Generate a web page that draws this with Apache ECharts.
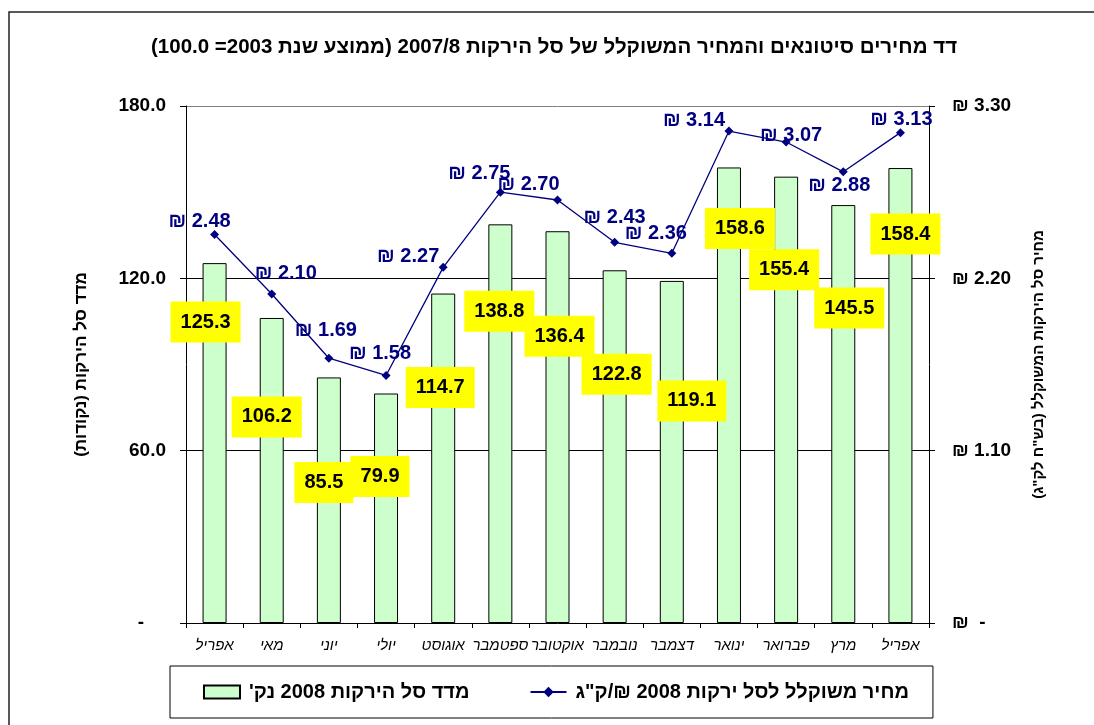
<!DOCTYPE html>
<html>
<head>
<meta charset="utf-8">
<script src="https://cdn.jsdelivr.net/npm/echarts@6/dist/echarts.min.js"></script>
<style>
html,body{margin:0;padding:0;background:#fff;}
#chart{width:1094px;height:725px;}
</style>
</head>
<body>
<div id="chart" dir="rtl"></div>
<script>
// ---- data ----
const categories = ['אפריל','מאי','יוני','יולי','אוגוסט','ספטמבר','אוקטובר','נובמבר','דצמבר','ינואר','פברואר','מרץ','אפריל'];
const indexValues = [125.3, 106.2, 85.5, 79.9, 114.7, 138.8, 136.4, 122.8, 119.1, 158.6, 155.4, 145.5, 158.4];
const priceValues = [2.48, 2.10, 1.69, 1.58, 2.27, 2.75, 2.70, 2.43, 2.36, 3.14, 3.07, 2.88, 3.13];
const leftAxisTicks = [0, 60, 120, 180];
const rightAxisTicks = [0, 1.10, 2.20, 3.30];
const titleText = 'דד מחירים סיטונאים והמחיר המשוקלל של סל הירקות 2007/8 (ממוצע שנת 2003= 100.0)';
const barSeriesName = "מדד סל הירקות 2008 נק'";
const lineSeriesName = 'מחיר משוקלל לסל ירקות 2008 ₪/ק"ג';
const leftAxisName = 'מדד סל הירקות (נקודות)';
const rightAxisName = 'מחיר סל הירקות המשוקלל (בש"ח לק"ג)';

// ---- label placement (offsets from bar top centre / point) ----
const barLabelPlacement = [[-9,59],[-5,99],[-5,105],[-6,83],[-3,94],[-1,87],[2,105],[2,104],[20,120],[11,61],[-2,93],[6,103],[5,66]];
const lineLabelPlacement = [[-15,-13],[14,-21],[-3,-28],[-6,-22],[-35,-11],[-21,-19],[-29,-16],[0,-25],[-16,-20],[-35,-11],[5,-7],[-4,14],[1,-13]];

const FONT = "'Liberation Sans', Arial, 'DejaVu Sans', sans-serif";
const BAR_W = 24;

const chart = echarts.init(document.getElementById('chart'), null, {renderer: 'canvas'});

const barData = indexValues.map((v, i) => ({
  value: v,
  label: { position: [BAR_W / 2 + barLabelPlacement[i][0], barLabelPlacement[i][1]] }
}));
const lineData = priceValues.map((v, i) => ({
  value: v,
  label: { offset: lineLabelPlacement[i] }
}));

const option = {
  animation: false,
  backgroundColor: '#ffffff',
  textStyle: { fontFamily: FONT },
  title: {
    text: titleText,
    left: 151,
    top: 37,
    padding: 0,
    textStyle: { fontFamily: FONT, fontSize: 20.5, fontWeight: 'bold', color: '#000' }
  },
  graphic: [{
    type: 'rect',
    shape: { x: 9, y: 12, width: 1100, height: 740 },
    style: { fill: 'none', stroke: '#222', lineWidth: 1.5 },
    silent: true
  }],
  legend: {
    left: 170,
    top: 666,
    padding: [16, 24, 16, 33],
    itemGap: 60,
    itemWidth: 36,
    itemHeight: 13,
    borderColor: '#000',
    borderWidth: 1,
    data: [{ name: barSeriesName, icon: 'rect' }, { name: lineSeriesName }],
    textStyle: { fontFamily: FONT, fontSize: 20, fontWeight: 'bold', color: '#000', padding: [0, 0, 0, 4] }
  },
  grid: { left: 186, right: 165, top: 106, bottom: 102, containLabel: false },
  xAxis: {
    type: 'category',
    data: categories,
    boundaryGap: true,
    axisLine: { lineStyle: { color: '#000', width: 1 } },
    axisTick: { show: true, length: 5, lineStyle: { color: '#000' } },
    axisLabel: { margin: 15, fontFamily: FONT, fontSize: 15, fontStyle: 'italic', color: '#000', interval: 0 }
  },
  yAxis: [{
    type: 'value',
    position: 'left',
    min: leftAxisTicks[0],
    max: leftAxisTicks[leftAxisTicks.length - 1],
    interval: leftAxisTicks[1] - leftAxisTicks[0],
    name: leftAxisName,
    nameLocation: 'middle',
    nameRotate: 90,
    nameGap: 96,
    nameTextStyle: { fontFamily: FONT, fontSize: 17, fontWeight: 'bold', color: '#000' },
    axisLine: { show: true, lineStyle: { color: '#000', width: 1 } },
    axisTick: { show: true, length: 6, lineStyle: { color: '#000' } },
    axisLabel: {
      margin: 20, fontFamily: FONT, fontSize: 19, fontWeight: 'bold', color: '#000',
      formatter: v => v === 0 ? '{z|-}' : v.toFixed(1),
      rich: { z: { fontFamily: FONT, fontSize: 19, fontWeight: 'bold', color: '#000', padding: [0, 22, 0, 0] } }
    },
    splitLine: { show: true, lineStyle: { color: ['rgba(0,0,0,0)', '#000', '#000', '#808080'], width: 1 } }
  }, {
    type: 'value',
    position: 'right',
    min: rightAxisTicks[0],
    max: rightAxisTicks[rightAxisTicks.length - 1],
    interval: rightAxisTicks[1] - rightAxisTicks[0],
    name: rightAxisName,
    nameLocation: 'middle',
    nameRotate: 90,
    nameGap: 102,
    nameTextStyle: { fontFamily: FONT, fontSize: 15, fontWeight: 'bold', color: '#000' },
    axisLine: { show: true, lineStyle: { color: '#000', width: 1 } },
    axisTick: { show: true, length: 6, lineStyle: { color: '#000' } },
    axisLabel: {
      margin: 23, fontFamily: FONT, fontSize: 19, fontWeight: 'bold', color: '#000',
      formatter: v => v === 0 ? '-  ₪' : v.toFixed(2) + ' ₪'
    },
    splitLine: { show: false }
  }],
  series: [{
    name: barSeriesName,
    type: 'bar',
    yAxisIndex: 0,
    barWidth: BAR_W,
    data: barData,
    itemStyle: { color: '#CCFFCC', borderColor: '#000', borderWidth: 1 },
    label: {
      show: true,
      align: 'center',
      verticalAlign: 'middle',
      fontFamily: FONT,
      fontSize: 20,
      fontWeight: 'bold',
      color: '#000',
      backgroundColor: '#FFFF00',
      lineHeight: 21,
      padding: [10, 10],
      formatter: p => p.value.toFixed(1)
    },
    z: 2
  }, {
    name: lineSeriesName,
    type: 'line',
    yAxisIndex: 1,
    data: lineData,
    symbol: 'diamond',
    symbolSize: 9,
    lineStyle: { color: '#000080', width: 1.3 },
    itemStyle: { color: '#000080' },
    label: {
      show: true,
      position: 'inside',
      fontFamily: FONT,
      fontSize: 20,
      fontWeight: 'bold',
      color: '#000080',
      formatter: p => p.value.toFixed(2) + ' ₪'
    },
    z: 3
  }]
};
chart.setOption(option);
</script>
</body>
</html>
